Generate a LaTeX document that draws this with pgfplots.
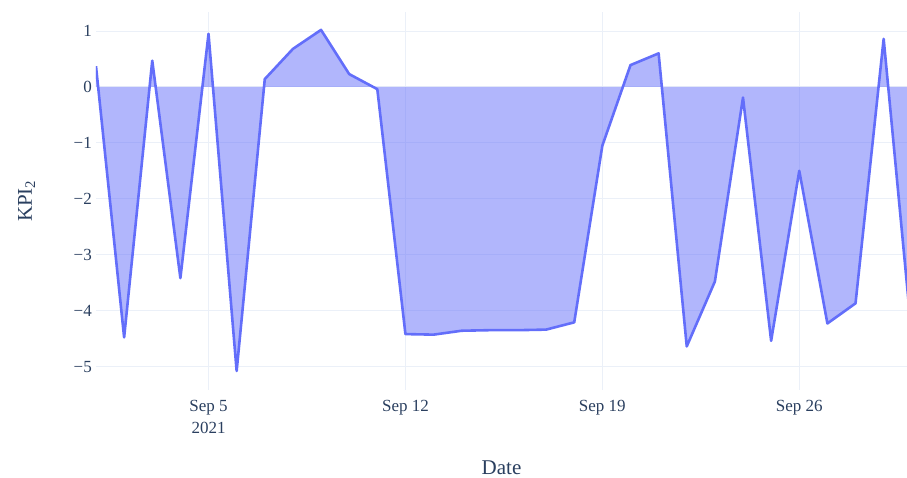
\documentclass[border=0pt]{standalone}
\usepackage{fontspec}
\setmainfont{Liberation Serif}
\usepackage{pgfplots}
\usepackage{pgfplotstable}
\pgfplotsset{compat=1.18}
\definecolor{txt}{RGB}{42,63,95}
\definecolor{grd}{RGB}{235,240,248}
\definecolor{ln}{RGB}{99,110,250}
\pgfplotstableread{
day val
1 0.37
2 -4.48
3 0.47
4 -3.42
5 0.95
6 -5.08
7 0.14
8 0.68
9 1.02
10 0.23
11 -0.04
12 -4.42
13 -4.43
14 -4.36
15 -4.35
16 -4.35
17 -4.34
18 -4.21
19 -1.05
20 0.39
21 0.60
22 -4.64
23 -3.48
24 -0.19
25 -4.54
26 -1.50
27 -4.23
28 -3.87
29 0.86
30 -4.45
}\data
\begin{document}
\begin{tikzpicture}
\begin{axis}[name=ax, at={(0,0)}, anchor=south west, scale only axis,
 width=811pt, height=378pt,
 xmin=1, xmax=29.83, ymin=-5.42, ymax=1.34,
 xtick={5,12,19,26}, xticklabels={{Sep 5\\2021},{Sep 12},{Sep 19},{Sep 26}},
 ytick={-5,-4,-3,-2,-1,0,1},
 yticklabels={−5,−4,−3,−2,−1,0,1},
 grid=major, grid style={grd, line width=1pt},
 major tick length=0pt,
 axis line style={draw=none},
 tick label style={font=\fontsize{17}{22}\selectfont, text=txt},
 xticklabel style={anchor=north, align=center, inner sep=0pt, yshift=-10pt},
 yticklabel style={anchor=east, inner sep=0pt, xshift=-4pt},
 xlabel={Date}, ylabel={KPI\textsubscript{2}},
 label style={font=\fontsize{21}{24}\selectfont, text=txt},
 xlabel style={at={(axis description cs:0.5,0)}, anchor=base, yshift=-84pt},
 ylabel style={at={(axis description cs:0,0.5)}, anchor=base, rotate=0, yshift=64pt},
]
\addplot[draw=none, fill=ln, fill opacity=0.5] table[x=day,y=val]{\data} \closedcycle;
\addplot[ln, line width=2.6pt, line join=round] table[x=day,y=val]{\data};
\end{axis}
\pgfresetboundingbox
\useasboundingbox (-96pt,-87pt) rectangle (811pt,390pt);
\end{tikzpicture}
\end{document}
